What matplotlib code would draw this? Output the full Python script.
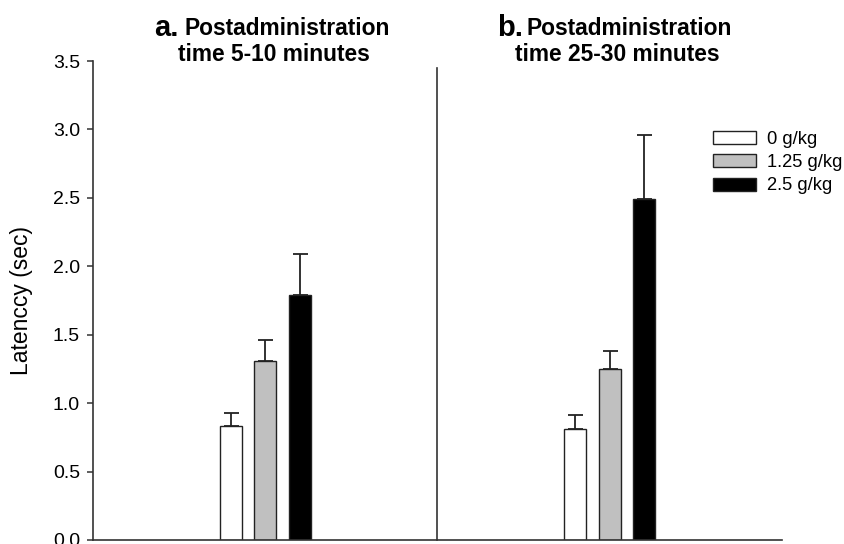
import matplotlib
matplotlib.use("Agg")
import matplotlib.pyplot as plt
import numpy as np

plt.rcParams['font.family'] = ['Liberation Sans', 'DejaVu Sans']

panels = ["Postadministration\ntime 5-10 minutes", "Postadministration\ntime 25-30 minutes"]
doses = ["0 g/kg", "1.25 g/kg", "2.5 g/kg"]
means = {
    "0 g/kg":    [0.83, 0.81],
    "1.25 g/kg": [1.31, 1.25],
    "2.5 g/kg":  [1.79, 2.49],
}
sems = {
    "0 g/kg":    [0.10, 0.10],
    "1.25 g/kg": [0.15, 0.13],
    "2.5 g/kg":  [0.30, 0.47],
}
colors = ["white", "#c0c0c0", "black"]
yticks = [0.0, 0.5, 1.0, 1.5, 2.0, 2.5, 3.0, 3.5]

W, H = 845, 544
fig = plt.figure(figsize=(W/100, H/100), dpi=100)
ax = fig.add_axes([93/W, 1-540/H, (782-93)/W, (540-61)/H])

x = np.arange(len(panels))
offsets = [-0.1, 0.0, 0.1]
bw = 0.064
axcol = "#333333"
for i, d in enumerate(doses):
    ax.bar(x + offsets[i], means[d], width=bw, color=colors[i], edgecolor="#222222",
           linewidth=1.0, label=d, zorder=2)
    ax.errorbar(x + offsets[i], means[d], yerr=[np.zeros(len(panels)), sems[d]],
                fmt="none", ecolor="#222222", elinewidth=1.3, capsize=5.4, capthick=1.3, zorder=3)

ax.set_xlim(-0.5, 1.5)
ax.set_ylim(0, 3.5)
ax.plot([0.5, 0.5], [0, 3.45], color=axcol, lw=1.2, clip_on=False, zorder=1)

for s in ["top", "right"]:
    ax.spines[s].set_visible(False)
for s in ["left", "bottom"]:
    ax.spines[s].set_color(axcol)
    ax.spines[s].set_linewidth(1.2)
ax.set_xticks([])
ax.set_yticks(yticks)
ax.set_yticklabels([f"{t:.1f}" for t in yticks])
ax.tick_params(axis="y", direction="out", length=4.3, width=1.1, color=axcol, pad=5, labelsize=14)
ax.set_ylabel("Latenccy (sec)", fontsize=16.5)
ax.yaxis.set_label_coords(-0.087, 0.5)

# titles
letters = ["a", "b"]
l1x = [185, 527]
lx = [154, 497]
c2x = [274, 617]
for k in range(2):
    line1, line2 = panels[k].split("\n")
    fig.text(lx[k]/W, 1-36/H, letters[k] + ".", fontsize=21, fontweight="bold", ha="left", va="baseline")
    fig.text(l1x[k]/W, 1-35/H, line1, fontsize=16.4, fontweight="bold", ha="left", va="baseline")
    fig.text(c2x[k]/W, 1-61/H, line2, fontsize=16.4, fontweight="bold", ha="center", va="baseline")

leg = ax.legend(loc="upper left", bbox_to_anchor=(713/W, 1-131/H), bbox_transform=fig.transFigure,
                frameon=False, fontsize=13.2, handlelength=2.35, handleheight=0.71,
                handletextpad=0.6, labelspacing=0.34, borderpad=0, borderaxespad=0)
for h in leg.legend_handles:
    h.set_edgecolor("#222222")

fig.savefig("out.png", dpi=100)
